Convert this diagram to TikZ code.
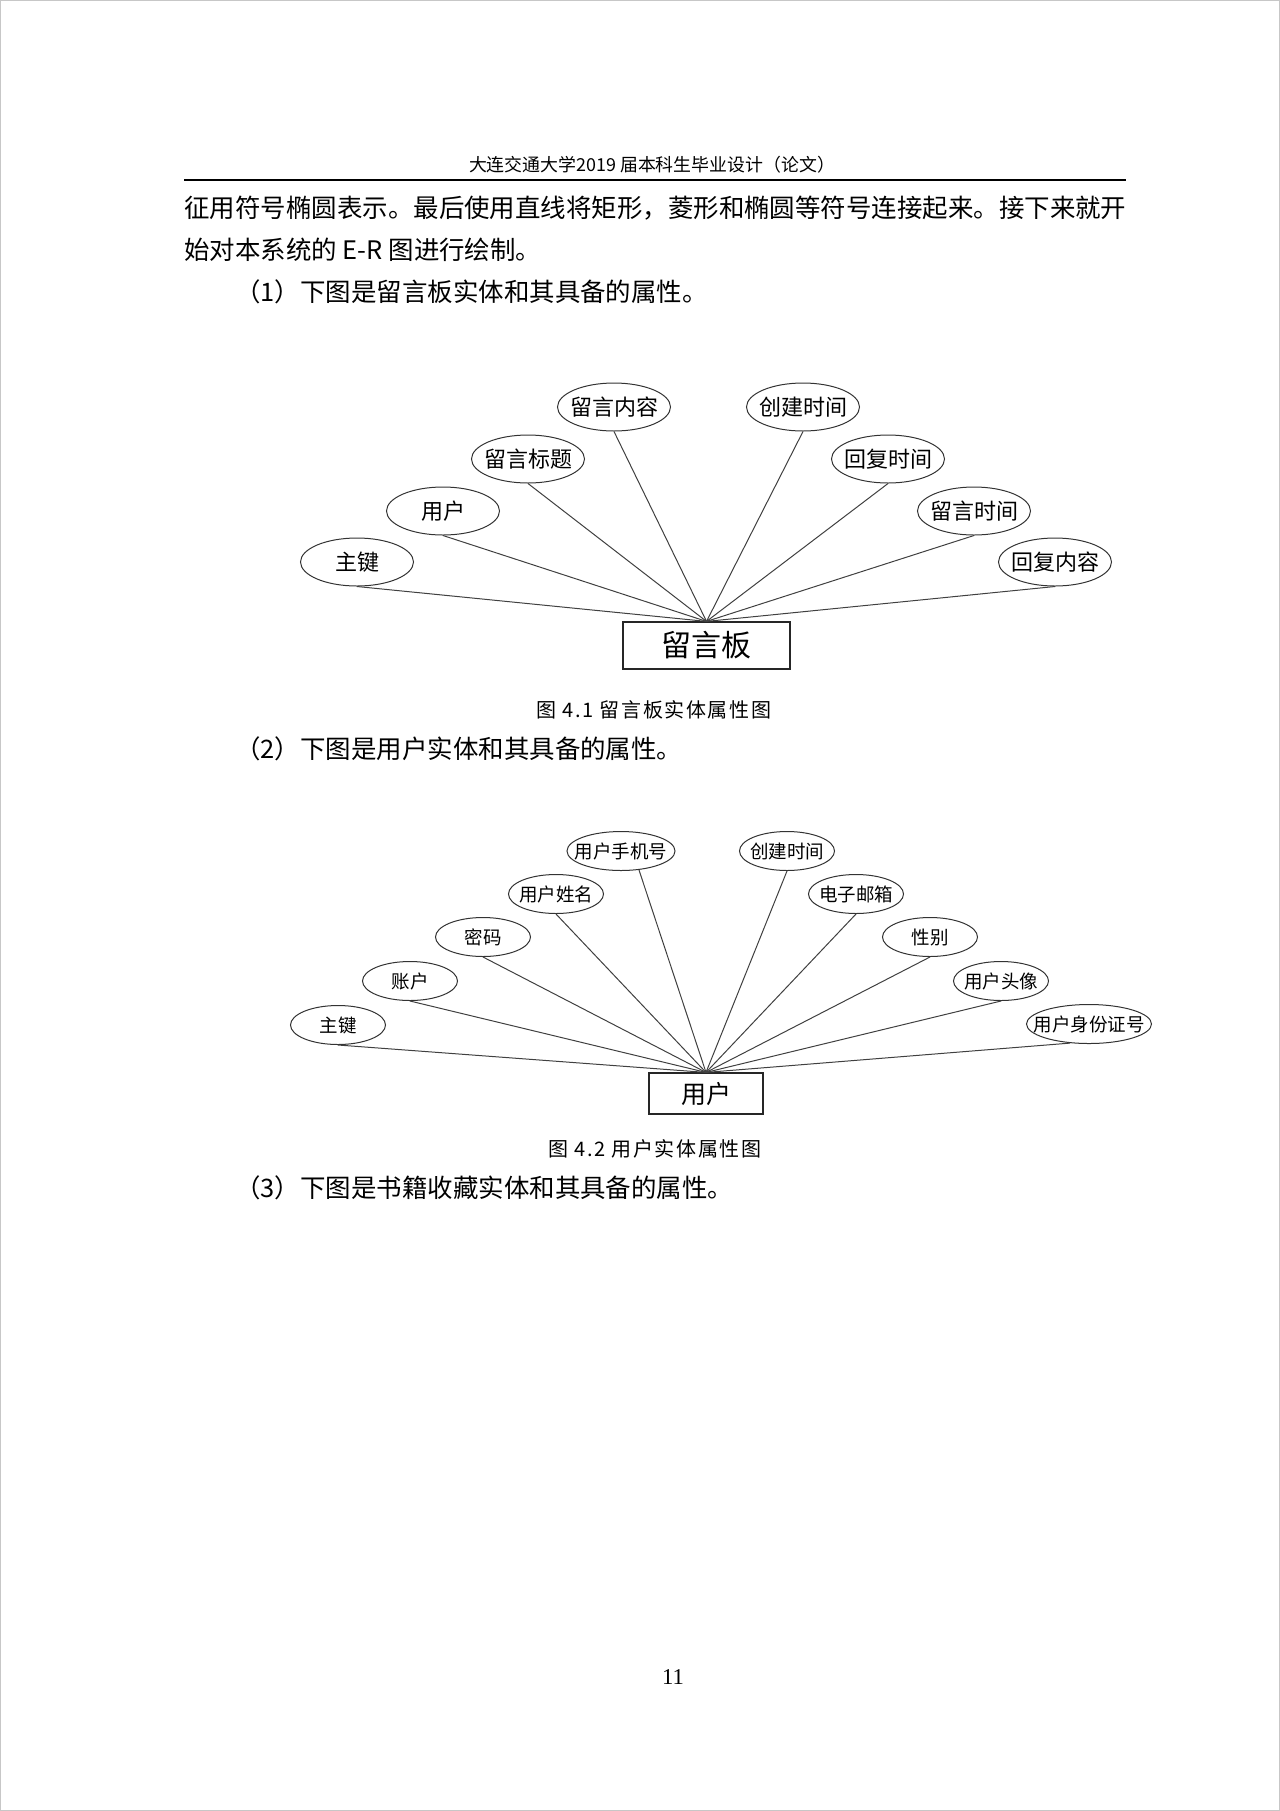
\documentclass[tikz,border=0pt]{standalone}
\usepackage{fontspec}
\setmainfont{Noto Sans CJK SC}
\newfontfamily\numfont{Liberation Serif}
\usetikzlibrary{shapes.geometric}
\newcommand{\ertext}[1]{\makebox[0pt]{\raisebox{-0.38em}[0pt][0pt]{#1}}}
\begin{document}
\begin{tikzpicture}[x=0.5pt,y=-0.5pt,
  attr/.style={ellipse,draw=black!80,line width=0.5pt,inner sep=0pt,
    minimum width=56.5pt,minimum height=24pt,
    font=\fontsize{11pt}{13pt}\selectfont},
  attrs/.style={ellipse,draw=black!80,line width=0.5pt,inner sep=0pt,
    minimum width=47.5pt,minimum height=19.5pt,
    font=\fontsize{9.25pt}{11pt}\selectfont},
  entity/.style={rectangle,draw=black!85,line width=0.6pt,inner sep=0pt},
  link/.style={draw=black!75,line width=0.5pt},
  body/.style={anchor=west,inner sep=0pt,font=\fontsize{12.73pt}{15pt}\selectfont},
  caption/.style={inner sep=0pt,font=\fontsize{10pt}{12pt}\selectfont\addfontfeature{LetterSpace=8}}
]
\useasboundingbox (0,0) rectangle (1280,1811);
\draw[black!22,line width=0.7pt] (0.7,0.7) rectangle (1279.3,1810.3);

% header
\node[inner sep=0pt,font=\fontsize{8.95pt}{11pt}\selectfont] (hdr) at (652,165) {大连交通大学2019 届本科生毕业设计（论文）};
\coordinate (rl) at (184,180);
\coordinate (rr) at (1126,180);
\draw[black,line width=0.6pt] (rl) -- (rr);

% body text
\node[body] (t1) at (184,208) {征用符号椭圆表示。最后使用直线将矩形，菱形和椭圆等符号连接起来。接下来就开};
\node[body] (t2) at (184,250) {始对本系统的 E-R 图进行绘制。};
\node[body] (t3) at (235,292) {（1）下图是留言板实体和其具备的属性。};

% figure 4.1
\node[entity,minimum width=83.5pt,minimum height=23.5pt,font=\fontsize{15pt}{17pt}\selectfont] (r1) at (706.5,645.5) {\ertext{留言板}};
\node[attr] (a1) at (357,562) {\ertext{主键}};
\node[attr] (a2) at (443,511) {\ertext{用户}};
\node[attr] (a3) at (528,459) {\ertext{留言标题}};
\node[attr] (a4) at (614,407) {\ertext{留言内容}};
\node[attr] (a5) at (803,407) {\ertext{创建时间}};
\node[attr] (a6) at (888,459) {\ertext{回复时间}};
\node[attr] (a7) at (974,511) {\ertext{留言时间}};
\node[attr] (a8) at (1055,562) {\ertext{回复内容}};
\foreach \n in {a1,a2,a3,a4,a5,a6,a7,a8}
  \draw[link] (\n.south) -- (r1.north);
\node[caption] (c1) at (654,710) {图 4.1 留言板实体属性图};

\node[body] (t4) at (235,749) {（2）下图是用户实体和其具备的属性。};

% figure 4.2
\node[entity,minimum width=57pt,minimum height=20.5pt,font=\fontsize{12.5pt}{14pt}\selectfont] (r2) at (706,1093.5) {\ertext{用户}};
\node[attrs] (u1) at (338,1025) {\ertext{主键}};
\node[attrs] (u2) at (410,981) {\ertext{账户}};
\node[attrs] (u3) at (483,937) {\ertext{密码}};
\node[attrs] (u4) at (556,894) {\ertext{用户姓名}};
\node[attrs,minimum width=54pt] (u5) at (621,851) {\ertext{用户手机号}};
\node[attrs] (u6) at (787,851) {\ertext{创建时间}};
\node[attrs] (u7) at (856,894) {\ertext{电子邮箱}};
\node[attrs] (u8) at (930,937) {\ertext{性别}};
\node[attrs] (u9) at (1001,981) {\ertext{用户头像}};
\node[attrs,minimum width=62.5pt] (u10) at (1089,1024) {\ertext{用户身份证号}};
\foreach \n in {u1,u2,u3,u4,u6,u7,u8,u9}
  \draw[link] (\n.south) -- (r2.north);
\draw[link] ([xshift=9pt,yshift=0.5pt]u5.south) -- (r2.north);
\draw[link] ([xshift=-9.5pt,yshift=0.45pt]u10.south) -- (r2.north);
\node[caption] (c2) at (655,1149) {图 4.2 用户实体属性图};

\node[body] (t5) at (235,1188) {（3）下图是书籍收藏实体和其具备的属性。};

% page number
\node[inner sep=0pt,font=\numfont\fontsize{11.3pt}{13pt}\selectfont] (pg) at (673,1677) {11};
\end{tikzpicture}
\end{document}
